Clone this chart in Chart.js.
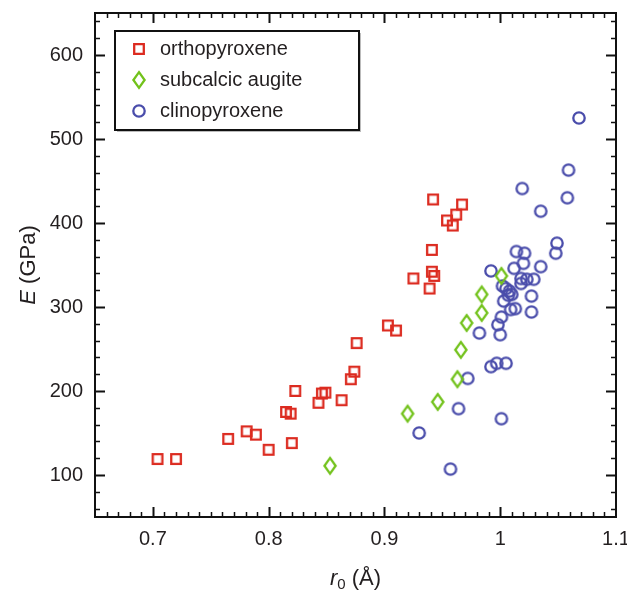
<!DOCTYPE html>
<html>
<head>
<meta charset="utf-8">
<script src="https://cdn.jsdelivr.net/npm/chart.js@4/dist/chart.umd.min.js"></script>
<style>
  html, body { margin: 0; padding: 0; background: #fff; }
  canvas { display: block; }
</style>
</head>
<body>
<canvas id="chart" width="627" height="594"></canvas>
<script>
// --- DATA ---
const seriesNames = ['orthopyroxene', 'subcalcic augite', 'clinopyroxene'];
const seriesColors = ['#dc2b20', '#72c21b', '#4a4dab'];

const orthoR0 = [0.704, 0.720, 0.765, 0.781, 0.789, 0.800, 0.815, 0.819, 0.820, 0.823,
                 0.843, 0.846, 0.849, 0.863, 0.871, 0.874, 0.876, 0.903, 0.910,
                 0.942, 0.967, 0.962, 0.954, 0.959, 0.941, 0.941, 0.943, 0.925, 0.939];
const orthoE  = [119, 119, 143, 152, 148, 130, 175, 173, 138, 200,
                 186, 197, 198, 189, 214, 223, 257, 278, 272,
                 428, 422, 410, 403, 397, 368, 342, 337, 334, 322];

const augiteR0 = [0.853, 0.920, 0.946, 0.963, 0.966, 0.971, 0.984, 0.984, 1.001];
const augiteE  = [111, 173, 187, 214, 249, 281, 293, 315, 337];

const clinoR0 = [0.972, 0.992, 0.997, 1.005, 0.964, 1.001, 0.930, 0.957, 1.019, 1.058,
                 1.035, 1.049, 1.048, 1.014, 1.021, 1.020, 1.012, 1.035, 0.992, 1.018,
                 1.023, 1.029, 1.018, 1.002, 1.005, 1.008, 1.010, 1.007, 1.027, 1.003,
                 1.013, 1.009, 1.027, 1.001, 0.998, 0.982, 1.000, 1.068, 1.059];
const clinoE  = [215, 229, 233, 233, 179, 167, 150, 107, 441, 430,
                 414, 376, 364, 366, 364, 352, 346, 348, 343, 334,
                 333, 333, 328, 325, 322, 319, 315, 314, 313, 307,
                 298, 297, 294, 288, 279, 269, 267, 525, 463];

const xTickVals = [0.7, 0.8, 0.9, 1, 1.1];
const yTickVals = [100, 200, 300, 400, 500, 600];

const FONT = '"Liberation Sans", Arial, Helvetica, sans-serif';
const TEXT_COLOR = '#231f20';

// --- MARKERS ---
function makeMarker(kind, color) {
    const c = document.createElement('canvas');
    c.width = 18;
    c.height = kind === 'diamond' ? 22 : 18;
    const g = c.getContext('2d');
    g.strokeStyle = color;
    g.lineWidth = 2.3;
    const cx = c.width / 2, cy = c.height / 2;
    g.beginPath();
    if (kind === 'square') {
        g.rect(cx - 4.8, cy - 4.8, 9.6, 9.6);
    } else if (kind === 'diamond') {
        g.moveTo(cx, cy - 7.8);
        g.lineTo(cx + 5.6, cy);
        g.lineTo(cx, cy + 7.8);
        g.lineTo(cx - 5.6, cy);
        g.closePath();
    } else {
        g.arc(cx, cy, 5.7, 0, Math.PI * 2);
    }
    g.stroke();
    return c;
}

const markers = [
    makeMarker('square', seriesColors[0]),
    makeMarker('diamond', seriesColors[1]),
    makeMarker('circle', seriesColors[2])
];

const toPoints = (xs, ys) => xs.map((x, i) => ({ x: x, y: ys[i] }));

// --- FRAME, INWARD TICKS, TITLES, LEGEND ---
const framePlugin = {
    id: 'frame',
    afterDraw(chart) {
        const ctx = chart.ctx;
        const a = chart.chartArea;
        const xs = chart.scales.x, ys = chart.scales.y;
        ctx.save();
        ctx.strokeStyle = '#111';

        // x ticks every 0.01, top and bottom
        for (let i = 66; i <= 109; i++) {
            const v = i / 100;
            const major = i % 10 === 0;
            const px = Math.round(xs.getPixelForValue(v)) + 0.5;
            const len = major ? 10 : 5;
            ctx.lineWidth = major ? 2 : 1.5;
            ctx.beginPath();
            ctx.moveTo(px, a.bottom); ctx.lineTo(px, a.bottom - len);
            ctx.moveTo(px, a.top); ctx.lineTo(px, a.top + len);
            ctx.stroke();
        }
        // y ticks every 20, left and right
        for (let v = 60; v <= 640; v += 20) {
            const major = v % 100 === 0;
            const py = Math.round(ys.getPixelForValue(v)) + 0.5;
            const len = major ? 10 : 5;
            ctx.lineWidth = major ? 2 : 1.5;
            ctx.beginPath();
            ctx.moveTo(a.left, py); ctx.lineTo(a.left + len, py);
            ctx.moveTo(a.right, py); ctx.lineTo(a.right - len, py);
            ctx.stroke();
        }

        // frame
        ctx.lineWidth = 2;
        ctx.strokeRect(a.left, a.top, a.right - a.left, a.bottom - a.top);

        // axis titles
        ctx.fillStyle = TEXT_COLOR;
        ctx.textBaseline = 'alphabetic';
        ctx.textAlign = 'left';

        // x title: r0 (Å)
        const italic = 'italic 22px ' + FONT;
        const normal = '22px ' + FONT;
        const sub = '15px ' + FONT;
        ctx.font = italic; const wr = ctx.measureText('r').width;
        ctx.font = sub; const w0 = ctx.measureText('0').width;
        ctx.font = normal; const wrest = ctx.measureText(' (Å)').width;
        let x0 = (a.left + a.right) / 2 - (wr + w0 + wrest) / 2;
        const by = 585;
        ctx.font = italic; ctx.fillText('r', x0, by); x0 += wr;
        ctx.font = sub; ctx.fillText('0', x0, by + 4); x0 += w0;
        ctx.font = normal; ctx.fillText(' (Å)', x0, by);

        // y title: E (GPa)
        ctx.save();
        ctx.translate(35, (a.top + a.bottom) / 2);
        ctx.rotate(-Math.PI / 2);
        ctx.font = italic; const wE = ctx.measureText('E').width;
        ctx.font = normal; const wG = ctx.measureText(' (GPa)').width;
        let y0 = -(wE + wG) / 2;
        ctx.font = italic; ctx.fillText('E', y0, 0); y0 += wE;
        ctx.font = normal; ctx.fillText(' (GPa)', y0, 0);
        ctx.restore();

        // legend box
        const lx = 115, ly = 31, lw = 244, lh = 99;
        ctx.fillStyle = '#bbb';
        ctx.fillRect(lx + 2, ly + 2, lw, lh);
        ctx.fillStyle = '#fff';
        ctx.fillRect(lx, ly, lw, lh);
        ctx.lineWidth = 2;
        ctx.strokeStyle = '#111';
        ctx.strokeRect(lx, ly, lw, lh);

        const rows = [49, 80, 111];
        ctx.font = '20px ' + FONT;
        ctx.fillStyle = TEXT_COLOR;
        seriesNames.forEach((name, i) => {
            const m = markers[i];
            ctx.drawImage(m, 139 - m.width / 2, rows[i] - m.height / 2);
            ctx.fillText(name, 160, rows[i] + 6);
        });
        ctx.restore();
    }
};

// --- CHART ---
new Chart(document.getElementById('chart'), {
    type: 'scatter',
    data: {
        datasets: [
            { label: seriesNames[0], data: toPoints(orthoR0, orthoE), pointStyle: markers[0] },
            { label: seriesNames[1], data: toPoints(augiteR0, augiteE), pointStyle: markers[1] },
            { label: seriesNames[2], data: toPoints(clinoR0, clinoE), pointStyle: markers[2] }
        ]
    },
    options: {
        responsive: false,
        devicePixelRatio: 1,
        animation: false,
        layout: { padding: { top: 13, right: 11, left: 0, bottom: 0 } },
        plugins: {
            legend: { display: false },
            tooltip: { enabled: false }
        },
        scales: {
            x: {
                type: 'linear',
                min: 0.65,
                max: 1.1,
                afterBuildTicks: (s) => { s.ticks = xTickVals.map(v => ({ value: v })); },
                afterFit: (s) => { s.height = 77; s.paddingLeft = 0; s.paddingRight = 0; },
                grid: { display: false, drawTicks: false },
                border: { display: false },
                ticks: {
                    padding: 10,
                    maxRotation: 0,
                    autoSkip: false,
                    color: TEXT_COLOR,
                    font: { family: FONT, size: 20 },
                    callback: (v) => String(v)
                }
            },
            y: {
                type: 'linear',
                min: 50,
                max: 650,
                afterBuildTicks: (s) => { s.ticks = yTickVals.map(v => ({ value: v })); },
                afterFit: (s) => { s.width = 95; s.paddingTop = 0; s.paddingBottom = 0; },
                grid: { display: false, drawTicks: false },
                border: { display: false },
                ticks: {
                    padding: 12,
                    autoSkip: false,
                    color: TEXT_COLOR,
                    font: { family: FONT, size: 20 },
                    callback: (v) => String(v)
                }
            }
        }
    },
    plugins: [framePlugin]
});
</script>
</body>
</html>
